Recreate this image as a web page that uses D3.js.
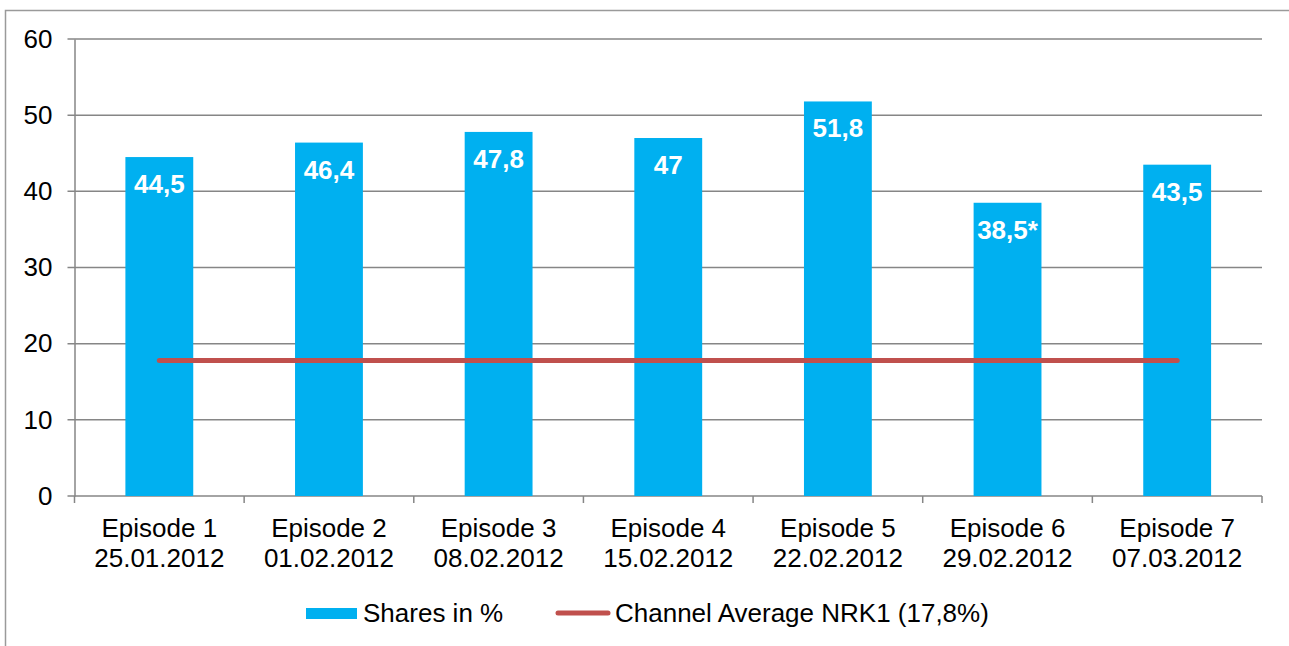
<!DOCTYPE html>
<html lang="en">
<head>
    <meta charset="UTF-8">
    <title>shares</title>
    <script src="https://d3js.org/d3.v7.min.js"></script>
    <style>
        body { margin: 0; background: #fff; }
        text { font-family: "Liberation Sans", Arial, sans-serif; }
    </style>
</head>
<body>
<script>
    const width = 1289
    const height = 646

    // data
    const episodes = ['Episode 1', 'Episode 2', 'Episode 3', 'Episode 4', 'Episode 5', 'Episode 6', 'Episode 7']
    const dates = ['25.01.2012', '01.02.2012', '08.02.2012', '15.02.2012', '22.02.2012', '29.02.2012', '07.03.2012']
    const shares = [44.5, 46.4, 47.8, 47, 51.8, 38.5, 43.5]
    const shareLabels = ['44,5', '46,4', '47,8', '47', '51,8', '38,5*', '43,5']
    const channelAvg = [17.8, 17.8, 17.8, 17.8, 17.8, 17.8, 17.8]
    const yTicks = [0, 10, 20, 30, 40, 50, 60]

    const plotLeft = 74.5, plotRight = 1262, plotTop = 39, plotBottom = 496
    const barColor = '#00b0f0'
    const lineColor = '#c0504d'
    const gridColor = '#868686'

    var svg = d3.select("body")
        .append("svg")
        .attr("width", width)
        .attr("height", height)

    // outer frame (runs off the right and bottom edges)
    svg.append("rect")
        .attr("x", 5.5)
        .attr("y", 10.5)
        .attr("width", width + 20)
        .attr("height", height + 20)
        .attr("fill", "none")
        .attr("stroke", "#9a9a9a")
        .attr("stroke-width", 1.5)

    var xScale = d3.scaleBand()
        .domain(episodes)
        .range([plotLeft, plotRight])
        .padding(0)
    var yScale = d3.scaleLinear()
        .domain([0, 60])
        .range([plotBottom, plotTop])

    // gridlines
    svg.append("g")
        .selectAll("line")
        .data(yTicks)
        .enter()
        .append("line")
        .attr("x1", plotLeft - 7)
        .attr("x2", plotRight)
        .attr("y1", d => yScale(d))
        .attr("y2", d => yScale(d))
        .attr("stroke", gridColor)
        .attr("stroke-width", 1.5)

    // y axis
    var yAxis = d3.axisLeft(yScale)
        .tickValues(yTicks)
        .tickSize(0)
        .tickPadding(22)
    var gy = svg.append("g")
        .attr("transform", "translate(" + plotLeft + ",0)")
        .call(yAxis)
    gy.select(".domain").attr("stroke", gridColor).attr("stroke-width", 1.5)
    gy.selectAll("text")
        .attr("font-size", 26)
        .attr("fill", "#000")
        .attr("font-family", "'Liberation Sans', Arial, sans-serif")

    // x axis ticks at the category boundaries
    svg.append("g")
        .selectAll("line")
        .data(episodes.concat(['end']))
        .enter()
        .append("line")
        .attr("x1", (d, i) => plotLeft + i * xScale.step())
        .attr("x2", (d, i) => plotLeft + i * xScale.step())
        .attr("y1", plotBottom)
        .attr("y2", plotBottom + 7)
        .attr("stroke", gridColor)
        .attr("stroke-width", 1.5)

    // bars
    const barW = xScale.bandwidth() * 0.4
    svg.append("g")
        .selectAll("rect")
        .data(shares)
        .enter()
        .append("rect")
        .attr("x", (d, i) => xScale(episodes[i]) + xScale.bandwidth() / 2 - barW / 2)
        .attr("y", d => yScale(d))
        .attr("width", barW)
        .attr("height", d => plotBottom - yScale(d))
        .attr("fill", barColor)

    // bar value labels
    svg.append("g")
        .selectAll("text")
        .data(shares)
        .enter()
        .append("text")
        .text((d, i) => shareLabels[i])
        .attr("x", (d, i) => xScale(episodes[i]) + xScale.bandwidth() / 2)
        .attr("y", d => yScale(d) + 36)
        .attr("text-anchor", "middle")
        .attr("font-size", 26)
        .attr("font-weight", "bold")
        .attr("fill", "#fff")

    // channel average line
    var line = d3.line()
        .x((d, i) => xScale(episodes[i]) + xScale.bandwidth() / 2)
        .y(d => yScale(d))
    svg.append("path")
        .attr("d", line(channelAvg))
        .attr("fill", "none")
        .attr("stroke", lineColor)
        .attr("stroke-width", 5)
        .attr("stroke-linecap", "round")

    // category labels
    var xl = svg.append("g")
        .selectAll("text")
        .data(episodes)
        .enter()
        .append("text")
        .attr("x", d => xScale(d) + xScale.bandwidth() / 2)
        .attr("y", 537)
        .attr("text-anchor", "middle")
        .attr("font-size", 26)
        .attr("fill", "#000")
    xl.append("tspan").text(d => d)
    xl.append("tspan")
        .attr("x", d => xScale(d) + xScale.bandwidth() / 2)
        .attr("dy", 30)
        .text((d, i) => dates[i])

    // legend
    svg.append("rect")
        .attr("x", 306)
        .attr("y", 608)
        .attr("width", 51)
        .attr("height", 11)
        .attr("fill", barColor)
    svg.append("text")
        .text('Shares in %')
        .attr("x", 363)
        .attr("y", 622)
        .attr("font-size", 26)
    svg.append("line")
        .attr("x1", 558)
        .attr("x2", 608)
        .attr("y1", 613)
        .attr("y2", 613)
        .attr("stroke", lineColor)
        .attr("stroke-width", 5)
        .attr("stroke-linecap", "round")
    svg.append("text")
        .text('Channel Average NRK1 (17,8%)')
        .attr("x", 615)
        .attr("y", 622)
        .attr("font-size", 26)
</script>
</body>
</html>
